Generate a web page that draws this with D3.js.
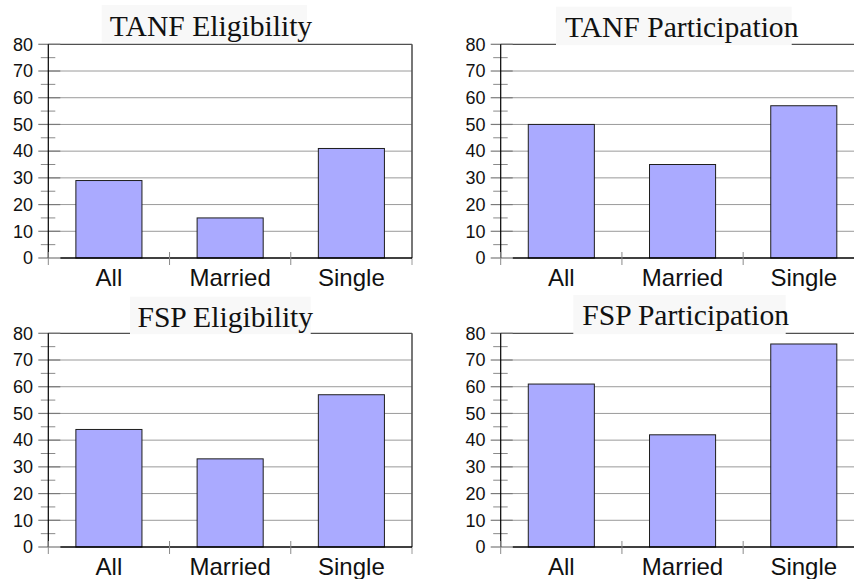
<!DOCTYPE html>
<html>
<head>
<meta charset="utf-8">
<script src="https://cdn.jsdelivr.net/npm/d3@7"></script>
<style>
  html, body { margin: 0; padding: 0; background: #ffffff; }
  svg { display: block; }
</style>
</head>
<body>
<svg id="chart" width="854" height="579"></svg>
<script>
// ---- data ----
const categories = ["All", "Married", "Single"];
const tanfEligibility = [29, 15, 41];
const tanfParticipation = [50, 35, 57];
const fspEligibility = [44, 33, 57];
const fspParticipation = [61, 42, 76];
const panelTitles = ["TANF Eligibility", "TANF Participation", "FSP Eligibility", "FSP Participation"];
const yTicks = [0, 10, 20, 30, 40, 50, 60, 70, 80];
const yMinorTicks = [5, 15, 25, 35, 45, 55, 65, 75];

// ---- layout ----
const panels = [
  { title: panelTitles[0], values: tanfEligibility,   left: 48.3,  top: 44.3,  titleX: 211,   titleY: 36,    box: [101.7, 5, 307, 42.6] },
  { title: panelTitles[1], values: tanfParticipation, left: 500.7, top: 44.3,  titleX: 681.7, titleY: 36.7,  box: [556, 6.7, 791.7, 45.2] },
  { title: panelTitles[2], values: fspEligibility,    left: 48.3,  top: 333.3, titleX: 225.3, titleY: 326.7, box: [130, 296.7, 310.7, 334.2] },
  { title: panelTitles[3], values: fspParticipation,  left: 500.7, top: 333.3, titleX: 685.7, titleY: 325,   box: [573.3, 295, 785.7, 334.2] }
];
const plotW = 363.7, plotH = 213.7;

const svg = d3.select("#chart");

panels.forEach(p => {
  const g = svg.append("g").attr("transform", `translate(${p.left},${p.top})`);
  const x = d3.scaleBand().domain(categories).range([0, plotW]).paddingInner(0.455).paddingOuter(0.2275);
  const y = d3.scaleLinear().domain([0, 80]).range([plotH, 0]);
  const step = x.step();
  const bandStart = d => x(d) - step * x.paddingInner() / 2;

  // gridlines (10..70)
  g.selectAll("line.grid").data(yTicks.filter(t => t > 0 && t < 80)).enter().append("line")
    .attr("x1", 0).attr("x2", plotW)
    .attr("y1", d => y(d)).attr("y2", d => y(d))
    .attr("stroke", "#9a9a9a").attr("stroke-width", 1);

  // top border
  g.append("line").attr("x1", 0).attr("x2", plotW).attr("y1", y(80)).attr("y2", y(80))
    .attr("stroke", "#505050").attr("stroke-width", 1.2);
  // right border
  g.append("line").attr("x1", plotW).attr("x2", plotW).attr("y1", y(80)).attr("y2", y(0))
    .attr("stroke", "#555").attr("stroke-width", 1.6);
  g.append("line").attr("x1", plotW).attr("x2", plotW).attr("y1", y(0)).attr("y2", y(0) + 7)
    .attr("stroke", "#999").attr("stroke-width", 1);

  // major y ticks
  g.selectAll("line.major").data(yTicks).enter().append("line")
    .attr("x1", -10).attr("x2", 12)
    .attr("y1", d => y(d)).attr("y2", d => y(d))
    .attr("stroke", "#7a7a7a").attr("stroke-width", 1.2);
  // minor y ticks
  g.selectAll("line.minor").data(yMinorTicks).enter().append("line")
    .attr("x1", -7.5).attr("x2", 7)
    .attr("y1", d => y(d)).attr("y2", d => y(d))
    .attr("stroke", "#8a8a8a").attr("stroke-width", 1);

  // bars
  g.selectAll("rect.bar").data(categories.map((c, i) => ({ c, v: p.values[i] }))).enter().append("rect")
    .attr("x", d => x(d.c)).attr("width", x.bandwidth())
    .attr("y", d => y(d.v)).attr("height", d => y(0) - y(d.v))
    .attr("fill", "#aaaaff").attr("stroke", "#1e1e1e").attr("stroke-width", 1);

  // y axis line
  g.append("line").attr("x1", 0).attr("x2", 0).attr("y1", y(80)).attr("y2", y(0))
    .attr("stroke", "#000").attr("stroke-width", 1.2);
  // baseline
  g.append("line").attr("x1", 12).attr("x2", plotW).attr("y1", y(0)).attr("y2", y(0))
    .attr("stroke", "#000").attr("stroke-width", 1.3);

  // category boundary ticks
  const bounds = categories.map(bandStart).concat([plotW]);
  g.selectAll("line.ctick").data(bounds.slice(0, 3)).enter().append("line")
    .attr("x1", d => d).attr("x2", d => d)
    .attr("y1", y(0) - 6).attr("y2", y(0) + 7)
    .attr("stroke", "#8a8a8a").attr("stroke-width", 1);

  // y labels
  g.selectAll("text.ylab").data(yTicks).enter().append("text")
    .attr("x", -15.2).attr("y", d => y(d) + 6.3)
    .attr("text-anchor", "end")
    .attr("font-family", "'Liberation Sans', Arial, sans-serif")
    .attr("font-size", 18).attr("fill", "#111")
    .text(d => d);

  // category labels
  g.selectAll("text.xlab").data(categories).enter().append("text")
    .attr("x", d => x(d) + x.bandwidth() / 2).attr("y", y(0) + 28)
    .attr("text-anchor", "middle")
    .attr("font-family", "'Liberation Sans', Arial, sans-serif")
    .attr("font-size", 24).attr("fill", "#111")
    .text(d => d);

  // title box + title
  svg.append("rect")
    .attr("x", p.box[0]).attr("y", p.box[1])
    .attr("width", p.box[2] - p.box[0]).attr("height", p.box[3] - p.box[1])
    .attr("fill", "#f8f8f8");
  svg.append("text")
    .attr("x", p.titleX).attr("y", p.titleY)
    .attr("text-anchor", "middle")
    .attr("font-family", "'Liberation Serif', 'Times New Roman', serif")
    .attr("font-size", 29.6).attr("fill", "#111")
    .text(p.title);
});
</script>
</body>
</html>
